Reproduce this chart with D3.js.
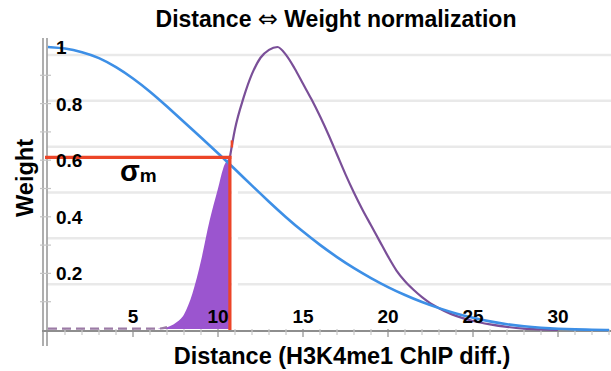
<html>
<script src="https://d3js.org/d3.v7.min.js"></script>
<style>
    body { margin: 0; background: #fff; }
    text { font-family: "Liberation Sans", Arial, sans-serif; font-weight: bold; fill: #000; }
</style>
<body>
<svg width="611" height="371" id="chart"></svg>
<script>
// ---- data ----
var blueDist   = [0, 1, 2, 3, 4, 5, 6, 7, 8, 9, 10, 11, 12, 13, 14, 15, 16, 17, 18, 19, 20, 21, 22, 23, 24, 25, 26, 27, 28, 29, 30, 31, 32, 33];
var blueWeight = [1, 0.996, 0.983, 0.963, 0.93, 0.89, 0.843, 0.79, 0.735, 0.68, 0.625, 0.568, 0.51, 0.453, 0.398, 0.347, 0.3, 0.257, 0.218, 0.183, 0.151, 0.123, 0.098, 0.077, 0.058, 0.043, 0.03, 0.02, 0.013, 0.008, 0.004, 0.002, 0.001, 0];

var purpleDist   = [0, 6.5, 7, 7.5, 8, 8.5, 9, 9.5, 10, 10.3, 10.7, 11, 11.5, 12, 12.5, 13, 13.5, 14, 14.5, 15, 15.5, 16, 16.5, 17, 17.5, 18, 18.5, 19, 19.5, 20, 20.5, 21, 21.5, 22, 22.5, 23, 23.5, 24, 25, 26, 27, 28, 29, 30];
var purpleWeight = [0.005, 0.005, 0.01, 0.025, 0.055, 0.13, 0.245, 0.385, 0.5, 0.57, 0.61, 0.71, 0.82, 0.905, 0.962, 0.99, 1.0, 0.972, 0.925, 0.87, 0.815, 0.755, 0.69, 0.62, 0.55, 0.485, 0.425, 0.37, 0.315, 0.26, 0.21, 0.172, 0.142, 0.116, 0.094, 0.077, 0.062, 0.05, 0.032, 0.02, 0.011, 0.005, 0.002, 0];

var sigmaM = 10.7;          // distance where the two curves meet
var sigmaWeight = 0.61;     // weight at sigma_m
var fillStart = 6.5;        // shaded purple begins here
var dashEnd = 7;            // purple baseline is dashed up to here

var xTicks = [5, 10, 15, 20, 25, 30];
var yTicks = [0.2, 0.4, 0.6, 0.8, 1];
var gridLevels = [1, 2, 3, 4, 5, 6];

var title = ["Distance ", "\u21d4", " Weight normalization"];
var xTitle = "Distance (H3K4me1 ChIP diff.)";
var yTitle = "Weight";

// ---- layout ----
var svg = d3.select("#chart");
var W = 611, H = 371;

var x = d3.scaleLinear().domain([0, 33]).range([48, 609]);
var y = d3.scaleLinear().domain([0, 1]).range([330, 47]);
var gridY = d3.scaleLinear().domain([0, 6]).range([330, 55]);

// background grid (belongs to a different underlying plot)
svg.append("g").selectAll("line")
    .data(gridLevels).enter().append("line")
    .attr("x1", 47).attr("x2", W)
    .attr("y1", function(d) { return gridY(d); })
    .attr("y2", function(d) { return gridY(d); })
    .attr("stroke", "#e9e9e9").attr("stroke-width", 2.5);

// white cut next to the sigma line
svg.append("rect")
    .attr("x", x(sigmaM) + 2).attr("y", y(sigmaWeight + 0.06))
    .attr("width", 6).attr("height", y(0) - y(sigmaWeight + 0.06))
    .attr("fill", "#fff");

// y axis (double line + small ticks)
[43, 47].forEach(function(px) {
    svg.append("line").attr("x1", px).attr("x2", px).attr("y1", 38).attr("y2", 346)
        .attr("stroke", "#9a9a9a").attr("stroke-width", 1.6);
});
svg.append("g").selectAll("line")
    .data(d3.range(1, 10).map(function(i) { return i / 10; })).enter().append("line")
    .attr("x1", 40).attr("x2", 51)
    .attr("y1", function(d) { return y(d); }).attr("y2", function(d) { return y(d); })
    .attr("stroke", "#c4c4c4").attr("stroke-width", 1.2);

// x axis
var xAxis = svg.append("g").attr("transform", "translate(0," + 331 + ")");
xAxis.append("line").attr("x1", 42).attr("x2", W).attr("stroke", "#8e8e8e").attr("stroke-width", 2);
xAxis.selectAll(".minor")
    .data(d3.range(1, 34)).enter().append("line")
    .attr("x1", function(d) { return x(d); }).attr("x2", function(d) { return x(d); })
    .attr("y1", -2).attr("y2", function(d) { return d % 5 == 0 ? 6 : 4; })
    .attr("stroke", function(d) { return d % 5 == 0 ? "#8e8e8e" : "#c8c8c8"; })
    .attr("stroke-width", 1.2);

// purple shaded area
var purple = purpleDist.map(function(d, i) { return { d: d, w: purpleWeight[i] }; });
var blue = blueDist.map(function(d, i) { return { d: d, w: blueWeight[i] }; });

var area = d3.area()
    .x(function(p) { return x(p.d); })
    .y0(y(0) - 1)
    .y1(function(p) { return y(p.w); })
    .curve(d3.curveMonotoneX);
svg.append("path")
    .datum(purple.filter(function(p) { return p.d >= fillStart && p.d <= sigmaM; }))
    .attr("d", area)
    .attr("fill", "#9b55cf");

var line = d3.line()
    .x(function(p) { return x(p.d); })
    .y(function(p) { return y(p.w); })
    .curve(d3.curveMonotoneX);

// purple dashed baseline
svg.append("path")
    .datum(purple.filter(function(p) { return p.d <= dashEnd; }))
    .attr("d", line)
    .attr("fill", "none").attr("stroke", "#9b7ba5").attr("stroke-width", 2.2)
    .attr("stroke-dasharray", "9,5");

// purple curve
svg.append("path")
    .datum(purple.filter(function(p) { return p.d >= sigmaM; }))
    .attr("d", line)
    .attr("fill", "none").attr("stroke", "#7a4f98").attr("stroke-width", 2.2);

// blue curve
svg.append("path")
    .datum(blue)
    .attr("d", d3.line().x(function(p) { return x(p.d); }).y(function(p) { return y(p.w); }).curve(d3.curveBasis))
    .attr("fill", "none").attr("stroke", "#3d8fe6").attr("stroke-width", 2.6);

// red sigma lines
svg.append("line")
    .attr("x1", 45).attr("x2", x(sigmaM) + 1.5)
    .attr("y1", y(sigmaWeight)).attr("y2", y(sigmaWeight))
    .attr("stroke", "#ec4528").attr("stroke-width", 3.2);
svg.append("line")
    .attr("x1", x(sigmaM)).attr("x2", x(sigmaM))
    .attr("y1", y(sigmaWeight) - 1.5).attr("y2", y(0))
    .attr("stroke", "#ec4528").attr("stroke-width", 3.2);
svg.append("line")
    .attr("x1", x(sigmaM) + 2).attr("x2", x(sigmaM) + 2)
    .attr("y1", y(sigmaWeight + 0.035)).attr("y2", y(sigmaWeight + 0.06))
    .attr("stroke", "#ec4528").attr("stroke-width", 2.5);

// tick labels
svg.append("g").selectAll("text")
    .data(yTicks).enter().append("text")
    .attr("x", 56).attr("y", function(d) { return y(d) + 7; })
    .attr("font-size", 19)
    .text(function(d) { return d; });

svg.append("g").selectAll("text")
    .data(xTicks).enter().append("text")
    .attr("x", function(d) { return x(d); }).attr("y", 323)
    .attr("text-anchor", "middle")
    .attr("font-size", 19)
    .text(function(d) { return d; });

// sigma_m label
var sig = svg.append("text").attr("x", 120).attr("y", 181).attr("font-size", 29);
sig.append("tspan").text("\u03c3");
sig.append("tspan").attr("font-size", 19).attr("dy", 1).text("m");

// titles
var t = svg.append("text")
    .attr("x", 336).attr("y", 27)
    .attr("text-anchor", "middle").attr("font-size", 23);
t.append("tspan").text(title[0]);
t.append("tspan").attr("font-family", "DejaVu Sans").attr("font-weight", "normal").attr("font-size", 24).text(title[1]);
t.append("tspan").text(title[2]);

svg.append("text")
    .attr("x", 342).attr("y", 364)
    .attr("text-anchor", "middle").attr("font-size", 23.5)
    .text(xTitle);

svg.append("text")
    .attr("transform", "translate(33,178) rotate(-90)")
    .attr("text-anchor", "middle").attr("font-size", 23.5)
    .text(yTitle);
</script>
</body>
</html>
